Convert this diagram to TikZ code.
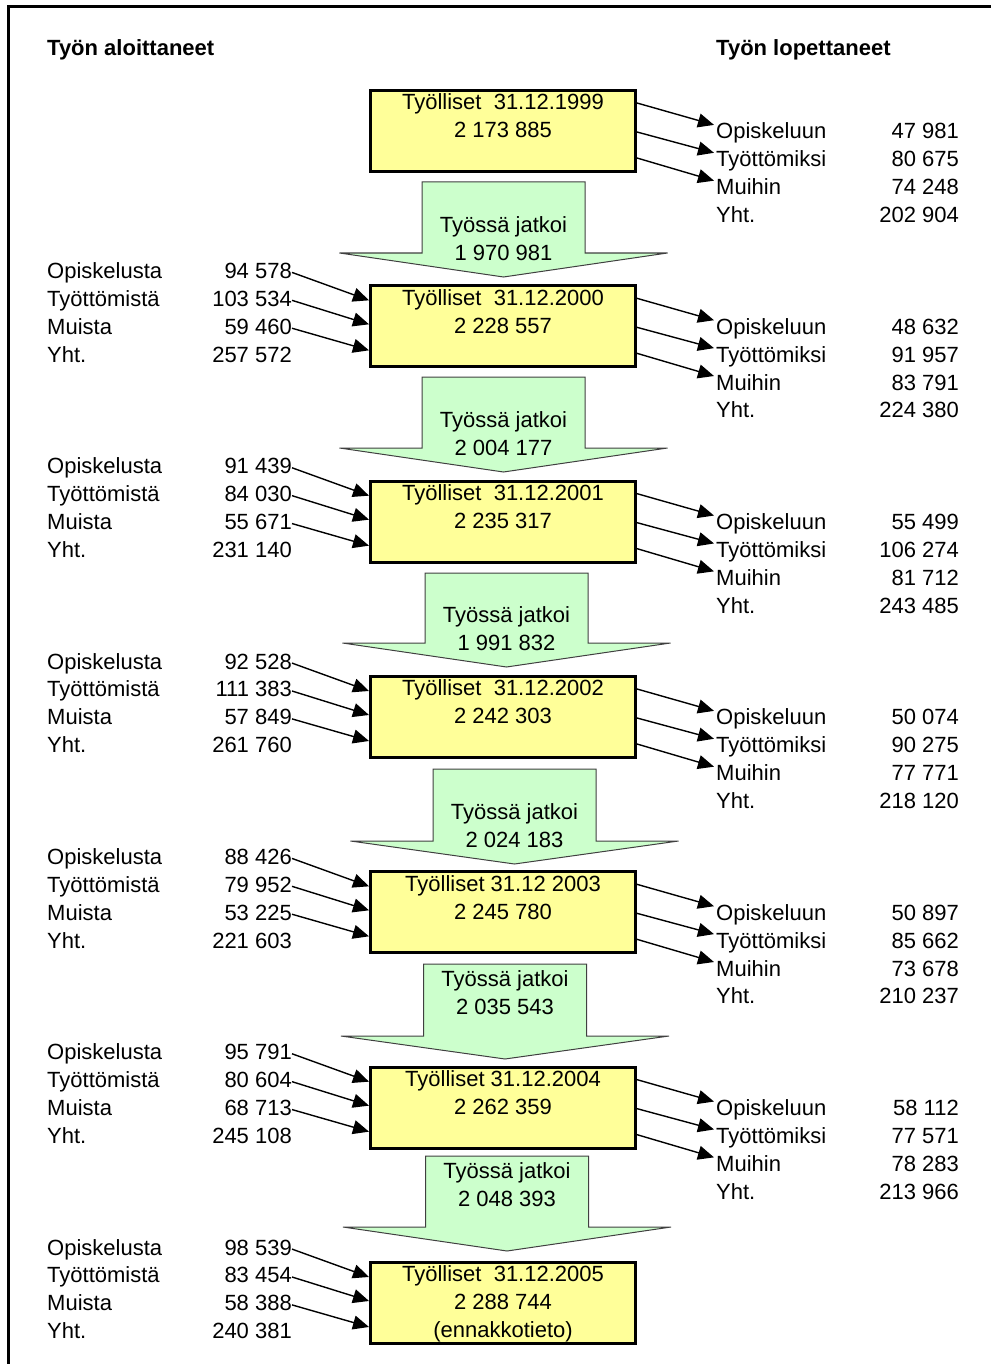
\documentclass[tikz,border=0pt]{standalone}
\usepackage{fontspec}
\setmainfont{Liberation Sans}
\usetikzlibrary{arrows.meta,calc}

\definecolor{keltainen}{RGB}{255,255,153}
\definecolor{vihrea}{RGB}{204,255,204}
\newcommand{\rivi}{\rule[-5.7pt]{0pt}{25.2pt}}

\begin{document}
\begin{tikzpicture}[x=1pt,y=-1pt,
  font=\fontsize{22}{27.9}\selectfont,
  laatikko/.style={draw,line width=3pt,fill=keltainen,minimum width=265pt,inner sep=0pt,align=center,anchor=north},
  jatko/.style={draw=black!75,line width=1pt,fill=vihrea},
  nimi/.style={inner sep=0pt,anchor=base west,text height=16pt,text depth=4pt},
  luku/.style={inner sep=0pt,anchor=base east,text height=16pt,text depth=4pt},
  virta/.style={-{Triangle[length=16pt,width=14pt]},line width=1.4pt}]
  \useasboundingbox (0,0) rectangle (990,1364);
  \draw[line width=3pt] (8.3,1370) -- (8.3,6.3) -- (996,6.3); % kehys ylhaalla ja vasemmalla
  \node[nimi,font=\fontsize{22}{27.9}\selectfont\bfseries] (alku) at (47,56) {Työn aloittaneet}; % vasen otsikko
  \node[nimi,font=\fontsize{22}{27.9}\selectfont\bfseries] (loppu) at (716,56) {Työn lopettaneet}; % oikea otsikko
  % tyolliset vuoden lopussa
  \foreach \n/\otsikko/\maara/\lisa in {0/{Työlliset\ \ 31.12.1999}/{2 173 885}/{},
      1/{Työlliset\ \ 31.12.2000}/{2 228 557}/{}, 2/{Työlliset\ \ 31.12.2001}/{2 235 317}/{},
      3/{Työlliset\ \ 31.12.2002}/{2 242 303}/{}, 4/{Työlliset 31.12 2003}/{2 245 780}/{},
      5/{Työlliset 31.12.2004}/{2 262 359}/{}, 6/{Työlliset\ \ 31.12.2005}/{2 288 744}/{(ennakkotieto)}}
    \node[laatikko] (v\n) at (503,{89+195.33*\n}) {\rivi\otsikko\\\rivi\maara\\\rivi\lisa};
  % tyossa jatkaneet
  \foreach \n/\cx/\yt/\yb/\yk/\yy/\luku in {0/503.5/182/253/277/212.5/{1 970 981},
      1/503.5/377/448/472/407.5/{2 004 177}, 2/506.5/573/643/667/602.5/{1 991 832},
      3/514.5/769/841/864/799.5/{2 024 183}, 4/505/964/1036/1059/966.5/{2 035 543},
      5/507/1156/1227/1251/1158.5/{2 048 393}}{
    \draw[jatko] (\cx-81.5,\yt) -- (\cx+81.5,\yt) -- (\cx+81.5,\yb) -- (\cx+164,\yb)
      -- (\cx,\yk) -- (\cx-164,\yb) -- (\cx-81.5,\yb) -- cycle; % nuoli alaspain
    \node[inner sep=0pt,align=center,anchor=north] (j\n) at (\cx,\yy) {\rivi Työssä jatkoi\\\rivi\luku};
  }
  % tyon aloittaneet (vasen puoli)
  \foreach \n/\lukua/\lukub/\lukuc/\lukud in {1/{94 578}/{103 534}/{59 460}/{257 572},
      2/{91 439}/{84 030}/{55 671}/{231 140}, 3/{92 528}/{111 383}/{57 849}/{261 760},
      4/{88 426}/{79 952}/{53 225}/{221 603}, 5/{95 791}/{80 604}/{68 713}/{245 108},
      6/{98 539}/{83 454}/{58 388}/{240 381}}{
    \node[nimi] (ao\n) at (47,{111+195.33*\n-27.9}) {Opiskelusta};
    \node[nimi] (at\n) at (47,{111+195.33*\n}) {Työttömistä};
    \node[nimi] (am\n) at (47,{111+195.33*\n+27.9}) {Muista};
    \node[nimi] (ay\n) at (47,{111+195.33*\n+55.8}) {Yht.};
    \node[luku] (aon\n) at (292,{111+195.33*\n-27.9}) {\lukua};
    \node[luku] (atn\n) at (292,{111+195.33*\n}) {\lukub};
    \node[luku] (amn\n) at (292,{111+195.33*\n+27.9}) {\lukuc};
    \node[luku] (ayn\n) at (292,{111+195.33*\n+55.8}) {\lukud};
    \draw[virta] (aon\n.east) -- ($(v\n.north west)+(0,16)$);
    \draw[virta] (atn\n.east) -- ($(v\n.north west)+(0,40)$);
    \draw[virta] (amn\n.east) -- ($(v\n.north west)+(0,66)$);
  }
  % tyon lopettaneet (oikea puoli)
  \foreach \n/\lukua/\lukub/\lukuc/\lukud in {0/{47 981}/{80 675}/{74 248}/{202 904},
      1/{48 632}/{91 957}/{83 791}/{224 380}, 2/{55 499}/{106 274}/{81 712}/{243 485},
      3/{50 074}/{90 275}/{77 771}/{218 120}, 4/{50 897}/{85 662}/{73 678}/{210 237},
      5/{58 112}/{77 571}/{78 283}/{213 966}}{
    \node[nimi] (lo\n) at (716,{111+195.33*\n+27.9}) {Opiskeluun};
    \node[nimi] (lt\n) at (716,{111+195.33*\n+55.8}) {Työttömiksi};
    \node[nimi] (lm\n) at (716,{111+195.33*\n+83.7}) {Muihin};
    \node[nimi] (ly\n) at (716,{111+195.33*\n+111.6}) {Yht.};
    \node[luku] (lon\n) at (959,{111+195.33*\n+27.9}) {\lukua};
    \node[luku] (ltn\n) at (959,{111+195.33*\n+55.8}) {\lukub};
    \node[luku] (lmn\n) at (959,{111+195.33*\n+83.7}) {\lukuc};
    \node[luku] (lyn\n) at (959,{111+195.33*\n+111.6}) {\lukud};
    \draw[virta] ($(v\n.north east)+(0,14)$) -- ($(lo\n.west)+(-2,-8)$);
    \draw[virta] ($(v\n.north east)+(0,43)$) -- ($(lt\n.west)+(-2,-8)$);
    \draw[virta] ($(v\n.north east)+(0,69)$) -- ($(lm\n.west)+(-2,-8)$);
  }
\end{tikzpicture}
\end{document}
